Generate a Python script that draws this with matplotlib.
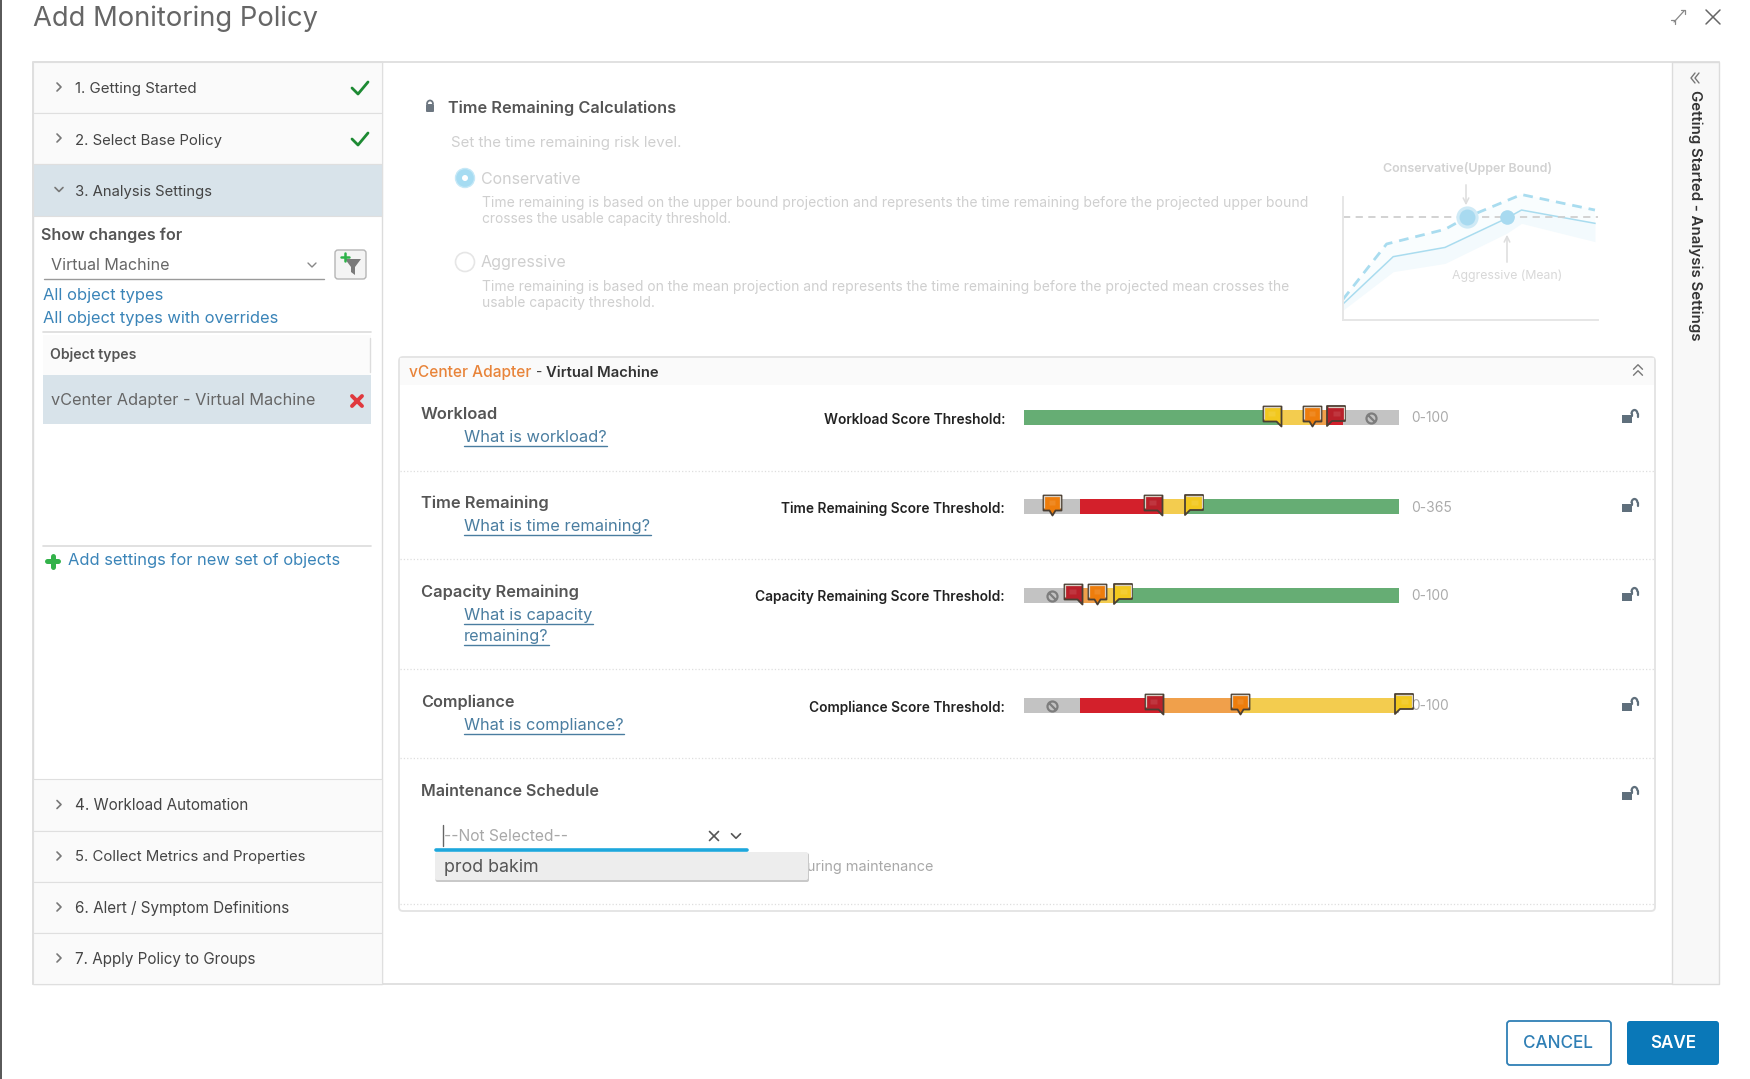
import matplotlib
matplotlib.use("Agg")
import matplotlib.pyplot as plt
from matplotlib.patches import Rectangle, FancyBboxPatch, Circle, Polygon, Arc
from matplotlib.path import Path
from matplotlib.transforms import Affine2D

plt.rcParams['font.family'] = ['Inter', 'DejaVu Sans']

# slider data, scores
slider_names = ['Workload', 'Time Remaining', 'Capacity Remaining', 'Compliance']
slider_ranges = [100, 365, 100, 100]
slider_range_labels = ['0-100', '0-365', '0-100', '0-100']

workload_edges = [0, 68.5, 76.7, 80.8, 85, 100]
workload_bands = ['green', 'yellow', 'orange', 'red', 'gray']
workload_flags = [68.5, 76.7, 80.8]
workload_flag_levels = ['yellow', 'orange', 'red']
workload_off = [92.5]

time_edges = [0, 54.5, 134, 157, 365]
time_bands = ['gray', 'red', 'yellow', 'green']
time_flags = [27, 134, 157]
time_flag_levels = ['orange', 'red', 'yellow']
time_off = []

capacity_edges = [0, 15.5, 19.5, 24, 100]
capacity_bands = ['gray', 'orange', 'yellow', 'green']
capacity_flags = [15.5, 19.5, 24]
capacity_flag_levels = ['red', 'orange', 'yellow']
capacity_off = [7.5]

compliance_edges = [0, 15, 37, 57.6, 99, 100]
compliance_bands = ['gray', 'red', 'orange', 'yellow', 'gray']
compliance_flags = [37, 57.6, 99]
compliance_flag_levels = ['red', 'orange', 'yellow']
compliance_off = [7.5]

# little projection chart
proj_x = [0, 19.7, 40, 64.2, 70, 98.8]
proj_mean = [13, 51.5, 59, 82.7, 89.4, 78.6]
proj_lower = [8, 39.3, 46, 70.5, 78.6, 63.7]
upper_x = [0, 17.1, 40, 48.5, 70, 98.8]
upper_y = [16.8, 61.8, 73.7, 83.5, 102, 89.4]
threshold = 83.5

steps_top = ['1. Getting Started', '2. Select Base Policy', '3. Analysis Settings']
steps_bottom = ['4. Workload Automation', '5. Collect Metrics and Properties',
                '6. Alert / Symptom Definitions', '7. Apply Policy to Groups']

W, H = 1750, 1079
GRAY_TXT = '#cfcfcf'
LINK = '#3a84b8'
DOC_LINK = '#4a7da0'
band_colors = {'green': '#66ad74', 'yellow': '#f3cc4f', 'orange': '#f0a04b',
               'red': '#d3202b', 'gray': '#c3c3c3'}
flag_colors = {'yellow': '#f2c81e', 'orange': '#ee7d0c', 'red': '#b9202a'}

fig = plt.figure(figsize=(W / 100, H / 100), dpi=100, facecolor='white')
ax = fig.add_axes([0, 0, 1, 1])
ax.set_xlim(0, W)
ax.set_ylim(H, 0)
ax.axis('off')
renderer = fig.canvas.get_renderer()


# text placed in pixels; w = width in the reference, font size is fitted to it
def put(x, y, s, w=None, size=10, color='#444444', weight='normal', ha='left', rotation=0, z=5):
    t = ax.text(x, y + 1.5, s, fontsize=size, color=color, fontweight=weight, ha=ha, va='center',
                rotation=rotation, zorder=z)
    if w:
        bb = t.get_window_extent(renderer)
        t.set_fontsize(size * w / max(bb.width, bb.height))
    return t


def line(xs, ys, color='#dddddd', lw=1.0, ls='-', z=3):
    ax.plot(xs, ys, color=color, lw=lw, ls=ls, zorder=z, solid_capstyle='round')


def box(x0, y0, x1, y1, fc, ec='none', lw=0, z=1):
    ax.add_patch(Rectangle((x0, y0), x1 - x0, y1 - y0, fc=fc, ec=ec, lw=lw, zorder=z))


def rbox(x0, y0, x1, y1, fc, ec='none', lw=0, r=3, z=2):
    ax.add_patch(FancyBboxPatch((x0, y0), x1 - x0, y1 - y0, boxstyle=f'round,pad=0,rounding_size={r}',
                                fc=fc, ec=ec, lw=lw, zorder=z))


def chevron(x, y, d='right', s=4, color='#777777', lw=1.2):
    if d == 'right':
        line([x - s / 2, x + s / 2, x - s / 2], [y - s, y, y + s], color, lw, z=6)
    elif d == 'down':
        line([x - s, x, x + s], [y - s / 2, y + s / 2, y - s / 2], color, lw, z=6)
    else:
        line([x - s, x, x + s], [y + s / 2, y - s / 2, y + s / 2], color, lw, z=6)


def cross(x, y, s, color, lw):
    line([x - s, x + s], [y - s, y + s], color, lw, z=6)
    line([x - s, x + s], [y + s, y - s], color, lw, z=6)


def padlock(x, y):
    c = '#5f6f7c'
    box(x - 6, y - 1, x + 4, y + 7, c, z=4)
    ax.add_patch(Arc((x + 6.5, y - 2), 6, 8, theta1=180, theta2=360, ec=c, lw=1.6, zorder=4))
    line([x + 3.5, x + 3.5], [y - 2, y], c, 1.6, z=4)
    line([x + 9.5, x + 9.5], [y - 2, y + 1], c, 1.6, z=4)


# page chrome
box(0, 0, 2, H, '#5a5a5a')
put(33, 17.5, 'Add Monitoring Policy', w=285, size=20, color='#666666')
line([1674, 1684], [22, 11], '#888888', 0.9)
line([1671, 1675, 1675], [20, 20, 24], '#888888', 0.9)
line([1681, 1685, 1685], [10, 10, 14], '#888888', 0.9)
cross(1713, 17, 7, '#666666', 1.1)

# outer frame and panels
box(33, 62, 1719, 984, 'white', '#dcdcdc', 1.2, z=0)
box(33, 62, 382, 984, 'white', '#dcdcdc', 1.0, z=1)
box(1672, 62, 1719, 984, '#f8f8f8', '#dcdcdc', 1.0, z=1)
put(1695, 214, 'Getting Started - Analysis Settings', w=251, size=10, color='#333333',
    weight='semibold', ha='center', rotation=-90)
line([1699, 1695, 1699], [73, 78, 83], '#777777', 1.0)
line([1695, 1691, 1695], [73, 78, 83], '#777777', 1.0)

# accordion steps
top_rows = [(62, 113), (113, 164), (164, 216)]
for i, (y0, y1) in enumerate(top_rows):
    box(33, y0, 382, y1, '#d8e3ea' if i == 2 else '#fafafa', '#dfdfdf', 0.8)
    yc = (y0 + y1) / 2 + 0.5
    chevron(59, yc - 1, 'down' if i == 2 else 'right')
    put(75, yc, steps_top[i], w=[123, 148, 138][i], color='#444444')
    if i < 2:
        line([352, 358, 368], [yc, yc + 6, yc - 6], '#1d8a33', 2.0, z=6)

bottom_rows = [(779, 831), (831, 882), (882, 933), (933, 984)]
for i, (y0, y1) in enumerate(bottom_rows):
    box(33, y0, 382, y1, '#fafafa', '#dfdfdf', 0.8)
    yc = (y0 + y1) / 2 - 0.5
    chevron(59, yc)
    put(75, yc, steps_bottom[i], w=[175, 232, 217, 182][i], color='#444444')

# show changes block
put(41, 234, 'Show changes for', w=141, color='#555555', weight='semibold')
put(51, 264, 'Virtual Machine', w=119, color='#666666')
chevron(312, 265, 'down', color='#888888', lw=1.0)
line([44, 324], [279, 279], '#9a9a9a', 1.0)
rbox(335, 250, 366, 279, '#f4f4f4', '#b5b5b5', 1.0, r=3)
ax.add_patch(Polygon([[345, 259], [361, 259], [355, 267], [355, 275], [351, 272], [351, 267]],
                     fc='#7a7a7a', zorder=5))
line([341, 349], [257, 257], '#2eb34a', 1.8, z=6)
line([345, 345], [253, 261], '#2eb34a', 1.8, z=6)
put(43, 294, 'All object types', w=121, color=LINK)
put(43, 317.5, 'All object types with overrides', w=236, color=LINK)
line([43, 371], [332, 332], '#dcdcdc', 1.2)
box(43, 335, 371, 375, '#fbfbfb')
line([370, 370], [338, 372], '#dddddd', 1.0)
put(50, 353, 'Object types', w=86, color='#555555', weight='semibold')
box(43, 375, 371, 424, '#d8e3ea')
put(51, 399, 'vCenter Adapter - Virtual Machine', w=265, color='#666666')
cross(357, 401, 5, '#e0393e', 2.8)
line([43, 371], [546, 546], '#dcdcdc', 1.2)
line([47, 58], [561, 561], '#33b24a', 3.6, z=6)
line([52.5, 52.5], [556, 567], '#33b24a', 3.6, z=6)
put(68, 559, 'Add settings for new set of objects', w=273, color=LINK)

# time remaining section, greyed out
ax.add_patch(FancyBboxPatch((426, 104), 8, 8, boxstyle='round,pad=0,rounding_size=1', fc='#6c7680', ec='none', zorder=4))
ax.add_patch(Arc((430, 104), 6, 7, theta1=180, theta2=360, ec='#6c7680', lw=1.3, zorder=4))
put(448, 107, 'Time Remaining Calculations', w=227, color='#555555', weight='semibold')
put(451, 142, 'Set the time remaining risk level.', w=232, color=GRAY_TXT)
ax.add_patch(Circle((465, 178), 9.5, fc='#a6dcf2', ec='#c5e8f7', lw=1, zorder=4))
ax.add_patch(Circle((465, 178), 3, fc='white', ec='none', zorder=5))
put(481, 178, 'Conservative', w=100, color=GRAY_TXT)
put(482, 201, 'Time remaining is based on the upper bound projection and represents the time remaining before the projected upper bound',
    w=826, color=GRAY_TXT)
put(482, 218, 'crosses the usable capacity threshold.', w=251, color=GRAY_TXT)
ax.add_patch(Circle((465, 262), 9.5, fc='white', ec='#e6e6e6', lw=1.2, zorder=4))
put(481, 261, 'Aggressive', w=86, color=GRAY_TXT)
put(482, 285, 'Time remaining is based on the mean projection and represents the time remaining before the projected mean crosses the',
    w=808, color=GRAY_TXT)
put(482, 302, 'usable capacity threshold.', w=173, color=GRAY_TXT)

# projection chart
pax = fig.add_axes([1343 / W, 1 - 320 / H, 255 / W, 135.3 / H])
pax.set_xlim(0, 100)
pax.set_ylim(0, 110)
pax.patch.set_visible(False)
pax.fill_between(proj_x, proj_lower, proj_mean, color='#f3fafd', lw=0)
pax.fill(upper_x + proj_x[::-1], upper_y + proj_mean[::-1], color='#f9fdfe', lw=0)
pax.plot(proj_x, proj_mean, color='#a9dcef', lw=1.1)
pax.plot(upper_x, upper_y, color='#a9dcef', lw=2, ls=(0, (3.5, 2.5)))
pax.axhline(threshold, color='#cfcfcf', lw=1.3, ls=(0, (4, 3)))
pax.plot([upper_x[3]], [threshold], 'o', ms=16, color='#cfeaf6', mew=0)
pax.plot([upper_x[3]], [threshold], 'o', ms=11.5, color='#a8daf0', mew=0)
pax.plot([proj_x[3]], [threshold], 'o', ms=10.5, color='#a8daf0', mew=0)
for side in ['top', 'right']:
    pax.spines[side].set_visible(False)
for side in ['left', 'bottom']:
    pax.spines[side].set_color('#e6e6e6')
    pax.spines[side].set_linewidth(1.4)
pax.spines['left'].set_bounds(0, 100)
pax.set_xticks([])
pax.set_yticks([])
put(1468, 167, 'Conservative(Upper Bound)', w=169, color='#d2d2d2', weight='semibold', ha='center')
put(1507, 274, 'Aggressive (Mean)', w=111, color='#d8d8d8', ha='center')
ax.annotate('', xy=(1466, 208), xytext=(1466, 182),
            arrowprops=dict(arrowstyle='->', color='#dddddd', lw=1.1), zorder=6)
ax.annotate('', xy=(1507, 232), xytext=(1507, 265),
            arrowprops=dict(arrowstyle='->', color='#dddddd', lw=1.1), zorder=6)

# adapter section
rbox(399, 357, 1655, 911, 'white', '#e3e3e3', 1.3, r=4, z=1)
box(400, 358, 1654, 385, '#fafafa', z=1)
put(409, 371.5, 'vCenter Adapter', w=122, color='#e8843a', weight='medium')
put(536, 371.5, '-', color='#444444', size=10)
put(546, 371.5, 'Virtual Machine', w=112, color='#333333', weight='semibold')
chevron(1638, 367, 'up', s=4.5, color='#777777', lw=1.0)
chevron(1638, 373, 'up', s=4.5, color='#777777', lw=1.0)

row_title_y = [413, 502, 591, 701]
row_bar_top = [410, 499, 588, 698]
row_label_y = [9, 8, 7.5, 8]
row_label_w = [182, 224, 250, 196]
row_title_w = [77, 127, 157, 93]
row_range_w = [38, 41, 38, 38]
for y in [471, 559, 669, 758, 904]:
    line([400, 1654], [y, y], '#dedede', 0.9, ':')

links = [('What is workload?', 436, 143), ('What is time remaining?', 525, 187),
         ('What is capacity', 614, 129), ('remaining?', 635, 85), ('What is compliance?', 724, 160)]
for s, y, w in links:
    put(464, y, s, w=w, color=DOC_LINK)
    line([464, 464 + w], [y + 10, y + 10], DOC_LINK, 1.0)

# flag shapes, tip at the origin, 1 unit = 1 pixel
flag_left = Path([(0, -1), (0, 19), (18, 19), (18, 4), (5, 4), (0, -1)], closed=True)
flag_right = Path([(0, -1), (-5, 4), (-18, 4), (-18, 19), (0, 19), (0, -1)], closed=True)
flag_mid = Path([(0, -1), (-3, 4), (-9, 4), (-9, 19), (9, 19), (9, 4), (3, 4), (0, -1)], closed=True)
# light rim along the top, and the little grid patch in the middle
rim_left = Path([(1, 18), (17, 18), (17, 6)])
rim_right = Path([(-17, 6), (-17, 18), (-1, 18)])
rim_mid = Path([(-8, 6), (-8, 18), (8, 18), (8, 6)])
grid_left = Path([(6, 9), (13, 9), (13, 14), (6, 14), (6, 9)], closed=True)
grid_right = Path([(-13, 9), (-6, 9), (-6, 14), (-13, 14), (-13, 9)], closed=True)
grid_mid = Path([(-3.5, 9), (3.5, 9), (3.5, 14), (-3.5, 14), (-3.5, 9)], closed=True)
FLAG_MS = 1.44 * 19
shape_sets = {'left': (flag_left, rim_left, grid_left), 'right': (flag_right, rim_right, grid_right),
              'mid': (flag_mid, rim_mid, grid_mid)}

# ring + slash drawn as one marker, radius 5 px
off_icon = Path.make_compound_path(Path.unit_circle().transformed(Affine2D().scale(5)),
                                   Path([(-3.5, 3.5), (3.5, -3.5)]))

slider_edges = [workload_edges, time_edges, capacity_edges, compliance_edges]
slider_bands = [workload_bands, time_bands, capacity_bands, compliance_bands]
slider_flags = [workload_flags, time_flags, capacity_flags, compliance_flags]
slider_levels = [workload_flag_levels, time_flag_levels, capacity_flag_levels, compliance_flag_levels]
slider_off = [workload_off, time_off, capacity_off, compliance_off]
flag_sides = [['right', 'mid', 'left'], ['mid', 'right', 'left'],
              ['right', 'mid', 'left'], ['right', 'mid', 'left']]

for i, name in enumerate(slider_names):
    put(421, row_title_y[i], name, w=row_title_w[i], color='#555555', weight='semibold')
    put(1005, row_bar_top[i] + row_label_y[i], name + ' Score Threshold:', w=row_label_w[i], color='#222222',
        weight='semibold', ha='right')
    put(1411, row_bar_top[i] + 7, slider_range_labels[i], w=row_range_w[i], color='#ababab')
    padlock(1628, row_bar_top[i] + 6)

    sax = fig.add_axes([1024 / W, 1 - (row_bar_top[i] + 15) / H, 375 / W, 15 / H], zorder=5)
    sax.set_xlim(0, slider_ranges[i])
    sax.set_ylim(-0.5, 0.5)
    sax.axis('off')
    edges = slider_edges[i]
    for j, band in enumerate(slider_bands[i]):
        sax.barh(0, edges[j + 1] - edges[j], left=edges[j], height=1, color=band_colors[band])
    for score in slider_off[i]:
        sax.plot([score], [0], marker=off_icon, ms=7.2, mfc='none', mec='#7d7d7d', mew=1.6, zorder=4)
    for score, level, side in zip(slider_flags[i], slider_levels[i], flag_sides[i]):
        flag, rim, grid = shape_sets[side]
        sax.plot([score], [-0.5], marker=flag, ms=FLAG_MS, mfc=flag_colors[level], mec='#4a3f33',
                 mew=1.3, clip_on=False, zorder=6)
        sax.plot([score], [-0.5], marker=rim, ms=FLAG_MS * 18 / 19, mfc='none', mec='#d9d0c4',
                 mew=0.9, clip_on=False, zorder=7)
        sax.plot([score], [-0.5], marker=grid, ms=FLAG_MS * 14 / 19, mfc='#ffffff', mec='none',
                 alpha=0.1, clip_on=False, zorder=7)

padlock(1628, 793)

# maintenance schedule
put(421, 790, 'Maintenance Schedule', w=177, color='#555555', weight='semibold')
line([443, 443], [825, 846], '#666666', 1.0)
put(444, 835, '--Not Selected--', w=124, color='#a8a8a8')
cross(714, 836, 4.5, '#555555', 1.2)
chevron(736, 836, 'down', s=4.5, color='#555555', lw=1.2)
line([436, 747], [850, 850], '#1ea7dc', 2.6)
put(933, 866, 'during maintenance', w=136, color='#a8a8a8', ha='right', z=2)
rbox(435.5, 853, 809, 882, '#c9c9c9', r=2, z=3)
rbox(435, 852, 808, 880, '#ededed', r=2, z=4)
put(444, 865.5, 'prod bakim', w=95, color='#555555', size=14)

# buttons
rbox(1507, 1021, 1611, 1065, 'white', '#2f7fb5', 1.3, r=3)
put(1558, 1041.5, 'CANCEL', w=70, color='#2f7fb5', weight='medium', ha='center')
rbox(1627, 1021, 1719, 1065, '#0a78b8', r=3)
put(1673, 1041.5, 'SAVE', w=46, color='white', weight='semibold', ha='center')

fig.savefig('out.png', dpi=100, facecolor='white')
